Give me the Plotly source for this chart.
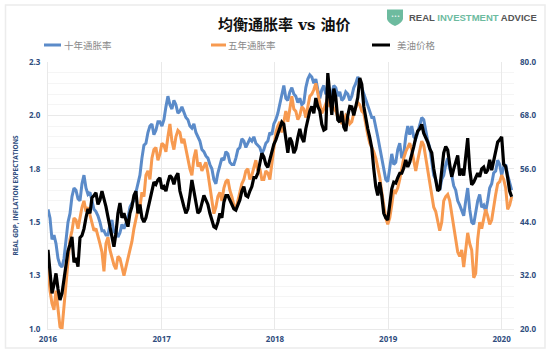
import pandas as pd
import plotly.graph_objects as go

title = "均衡通胀率 vs 油价"
names = ["十年通胀率", "五年通胀率", "美油价格"]
left_ticks = [1.0, 1.25, 1.5, 1.75, 2.0, 2.25]
left_labels = ["1.0", "1.3", "1.5", "1.8", "2.0", "2.3"]
right_ticks = [20, 32, 44, 56, 68, 80]
right_labels = ["20.0", "32.0", "44.0", "56.0", "68.0", "80.0"]
year_ticks = ["2016-01-01", "2017-01-01", "2018-01-01", "2019-01-01", "2020-01-01"]
year_labels = ["2016", "2017", "2018", "2019", "2020"]

ten_year = [1.56,1.52,1.42,1.44,1.40,1.33,1.30,1.29,1.33,1.43,1.50,1.54,1.62,1.66,1.65,1.61,1.60,1.68,1.72,1.66,1.63,1.64,1.60,1.56,1.55,1.53,1.50,1.46,1.46,1.44,1.44,1.49,1.51,1.45,1.46,1.43,1.45,1.49,1.47,1.50,
1.52,1.57,1.59,1.60,1.64,1.69,1.72,1.80,1.86,1.87,1.92,1.95,1.96,1.91,1.93,1.97,1.97,1.95,1.98,2.04,2.09,2.05,2.03,2.07,2.05,2.01,2.02,2.04,2.01,1.99,1.98,1.95,1.94,1.96,1.92,1.90,1.88,1.84,1.83,1.81,
1.80,1.77,1.75,1.70,1.68,1.73,1.76,1.80,1.79,1.83,1.82,1.78,1.77,1.77,1.80,1.84,1.85,1.89,1.88,1.85,1.87,1.89,1.88,1.90,1.87,1.86,1.85,1.82,1.84,1.87,1.88,1.92,1.91,1.96,1.98,2.01,2.05,2.10,2.14,2.08,
2.07,2.11,2.13,2.10,2.09,2.06,2.08,2.05,2.06,2.13,2.17,2.19,2.18,2.15,2.17,2.12,2.08,2.12,2.14,2.10,2.11,2.08,2.10,2.14,2.13,2.09,2.11,2.07,2.08,2.11,2.10,2.07,2.09,2.13,2.15,2.18,2.16,2.13,2.10,2.08,
2.05,2.02,1.99,1.99,1.95,1.90,1.85,1.80,1.76,1.70,1.69,1.75,1.82,1.77,1.78,1.84,1.87,1.80,1.82,1.90,1.95,1.91,1.95,1.90,1.89,1.92,1.95,1.99,1.98,1.92,1.88,1.85,1.78,1.72,1.70,1.66,1.65,1.70,1.72,1.77,
1.80,1.75,1.72,1.67,1.65,1.60,1.58,1.55,1.53,1.60,1.66,1.56,1.50,1.49,1.54,1.60,1.63,1.57,1.58,1.55,1.60,1.66,1.68,1.73,1.74,1.79,1.77,1.72,1.76,1.77,1.72,1.68,1.65]

five_year = [1.29,1.18,1.12,1.09,1.18,1.10,1.01,1.00,1.10,1.22,1.33,1.42,1.46,1.52,1.51,1.47,1.52,1.57,1.60,1.55,1.57,1.53,1.50,1.46,1.47,1.44,1.40,1.36,1.27,1.40,1.43,1.37,1.33,1.30,1.28,1.34,1.33,1.29,1.25,1.29,
1.33,1.37,1.41,1.47,1.52,1.56,1.57,1.64,1.62,1.72,1.74,1.70,1.80,1.84,1.85,1.79,1.82,1.87,1.86,1.83,1.90,1.96,1.88,1.84,1.90,1.93,1.92,1.87,1.89,1.84,1.79,1.75,1.72,1.80,1.84,1.76,1.78,1.74,1.76,1.78,
1.73,1.66,1.60,1.54,1.57,1.62,1.64,1.60,1.66,1.69,1.70,1.65,1.62,1.58,1.56,1.60,1.63,1.68,1.70,1.74,1.75,1.70,1.72,1.76,1.79,1.74,1.75,1.70,1.70,1.74,1.73,1.70,1.77,1.85,1.92,1.95,1.97,1.92,1.98,2.02,
1.97,2.04,2.09,2.03,2.02,1.98,2.00,2.04,2.03,1.99,2.05,2.09,2.10,2.12,2.15,2.10,2.06,2.01,2.03,2.06,2.08,2.04,2.06,2.03,2.02,1.99,2.00,1.96,1.97,2.00,1.99,1.96,1.97,2.01,2.04,2.06,2.05,2.02,2.01,1.95,
1.91,1.87,1.85,1.83,1.80,1.75,1.71,1.64,1.58,1.52,1.49,1.52,1.58,1.65,1.64,1.66,1.70,1.76,1.80,1.83,1.85,1.87,1.84,1.78,1.74,1.79,1.84,1.88,1.86,1.80,1.76,1.68,1.63,1.57,1.55,1.50,1.46,1.50,1.60,1.62,
1.63,1.60,1.54,1.47,1.40,1.36,1.34,1.37,1.29,1.38,1.45,1.40,1.37,1.24,1.26,1.42,1.50,1.47,1.51,1.56,1.53,1.49,1.51,1.58,1.63,1.68,1.69,1.72,1.70,1.66,1.56,1.58,1.62]

oil = [37.8,33,28,30,32.5,29,26.5,28,31.5,34,37.5,39,40.7,35,36,34,40.5,41,42.5,45,47,46,49.5,50,50.6,48,49,51,49.5,47.5,45.2,43,41,38.5,41.5,46,48.3,45,46,44.5,
43,46,47.5,50,51,46,48,45,44,45,47,49,51.5,53,52.5,53.5,54,51.5,52,51,53,54.5,54,52.5,54.2,55,51,49,47.5,46,47,50,53.5,51,48,46,46.5,48.5,50,49,
48,46,44.5,43,42.7,44,46,45,48.5,50,50,49,48,47,46.7,48,49,51,52,50,49.7,51,52,54,54,55,57,59.5,58.7,57,56.3,58,60,61.5,62.5,64,65,66.5,66,62,
59.6,63,62,59.5,60.5,63,65,63,62,65,67.4,69,70,68.5,71.9,70,69,66,64.7,65,77.5,72,68.1,74,72,67,66.5,69,65.4,64.5,68,70,69.9,68,69.7,72,76.4,75,70,67,
65,63,60.7,56,52,50,53,50,46,45,44.5,48,51.5,53,52.8,54,55,55,56.2,58,56.4,57.5,59,61,63,64.5,65,66,64,63,62,60.5,59.6,56,53,51,51.5,56,59.6,61,
60.2,57,54.2,56,57.3,59,54.5,56,54.5,58,62.9,56,52.4,53,54,55,54.2,56,56.4,55,55.7,58,55.7,58,60.5,62,62.5,63.2,57,56.5,54,51,49.7]

assert len(ten_year) == len(five_year) == len(oil)
dates = pd.date_range("2016-01-01", periods=len(oil), freq="9270min")

BLUE, ORANGE, NAVY = "#5b8bc9", "#f79a50", "#2f4d7e"
fig = go.Figure()
fig.add_trace(go.Scatter(x=dates, y=ten_year, name=names[0], mode="lines", line=dict(color=BLUE, width=3)))
fig.add_trace(go.Scatter(x=dates, y=five_year, name=names[1], mode="lines", line=dict(color=ORANGE, width=3)))
fig.add_trace(go.Scatter(x=dates, y=oil, name=names[2], mode="lines", yaxis="y2", line=dict(color="#000000", width=3.2)))

tick_font = dict(family="Open Sans, sans-serif", size=8, color=NAVY, weight="bold")
fig.update_layout(
    width=550, height=355, showlegend=False,
    paper_bgcolor="white", plot_bgcolor="white",
    margin=dict(l=48, r=36, t=62, b=26),
    xaxis=dict(range=["2016-01-01", "2020-02-10"], tickvals=year_ticks, ticktext=year_labels,
               tickfont=tick_font, showgrid=True, gridcolor="#e9e9e9", gridwidth=1, zeroline=False,
               showline=True, linecolor="#e9e9e9", ticks="", ticklabelstandoff=2),
    yaxis=dict(range=[1.0, 2.25], tickvals=left_ticks, ticktext=left_labels, tickfont=tick_font,
               showgrid=True, gridcolor="#e9e9e9", gridwidth=1, zeroline=False,
               showline=True, linecolor="#e9e9e9", ticks="", ticklabelstandoff=5,
               minor=dict(dtick=0.05, tick0=1.0, showgrid=True, gridcolor="#f5f5f5", gridwidth=1, ticks=""),
               title=dict(text="REAL GDP, INFLATION EXPECTATIONS",
                          font=dict(family="Open Sans, sans-serif", size=6.5, color=NAVY, weight="bold"),
                          standoff=9)),
    yaxis2=dict(range=[20, 80], tickvals=right_ticks, ticktext=right_labels, tickfont=tick_font,
                overlaying="y", side="right", showgrid=False, zeroline=False, ticks="", ticklabelstandoff=5),
)

cjk = "DejaVu Serif, Noto Sans CJK SC, sans-serif"
def px(x): return (x - 48) / 466
def py(y): return (329 - y) / 267
def note(x, y, text, size, color, anchor="left", family=cjk, weight="normal"):
    fig.add_annotation(xref="paper", yref="paper", x=px(x), y=py(y), text=text, showarrow=False,
                       xanchor=anchor, yanchor="middle", borderpad=0,
                       font=dict(family=family, size=size, color=color, weight=weight))

note(284, 25, title, 15, "#111111", "center", weight="bold")
for x0, x1, x_text, color, label in [(44, 61, 63, BLUE, names[0]), (211, 226, 227, ORANGE, names[1]), (372, 390, 396, "#000000", names[2])]:
    fig.add_shape(type="line", xref="paper", yref="paper", x0=px(x0), x1=px(x1),
                  y0=py(45), y1=py(45), line=dict(color=color, width=3))
    note(x_text, 45.5, label, 9.5, "#8a8a8a")

# card outline
fig.add_shape(type="rect", xref="paper", yref="paper", x0=px(5.5), x1=px(545), y0=py(5), y1=py(348),
              line=dict(color="#ececec", width=1.5), layer="below")
# brand mark
fig.add_shape(type="path", xref="paper", yref="paper", layer="above",
              path=f"M {px(387)} {py(9.5)} L {px(403)} {py(9.5)} L {px(403)} {py(19)} Q {px(402)} {py(23)} {px(395)} {py(26)} "
                   f"Q {px(388)} {py(23)} {px(387)} {py(19)} Z",
              fillcolor="#6dbb9f", line=dict(width=0))
note(395, 16, "•••", 5, "white", "center")
brand = ("<span style='color:#555555'>REAL </span><span style='color:#6dbb9f'>INVESTMENT </span>"
         "<span style='color:#555555'>ADVICE</span>")
note(408, 17, brand, 9.5, "#555555", family="Liberation Sans, sans-serif", weight="bold")

fig.write_html("out.html", post_script="document.body.style.margin='0';", config=dict(displayModeBar=False))
